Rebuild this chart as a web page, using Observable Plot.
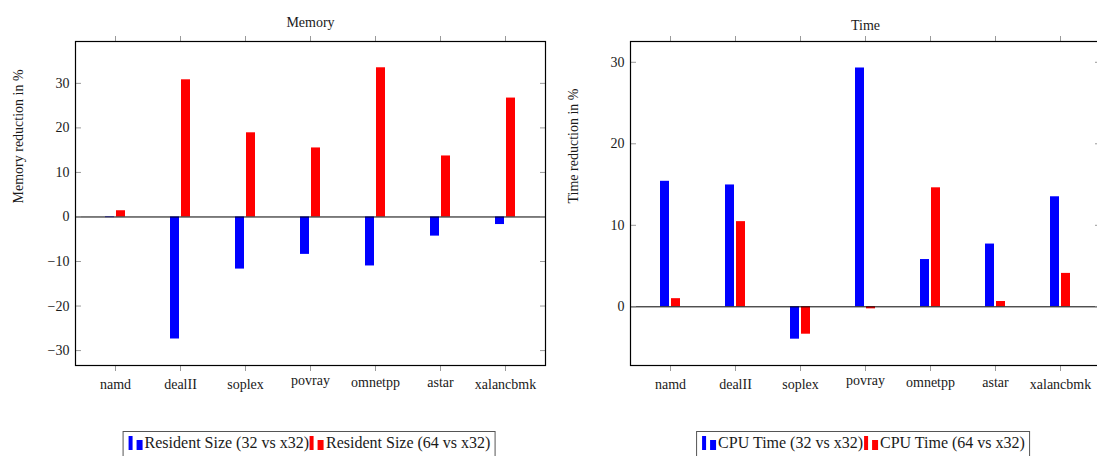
<!DOCTYPE html>
<html>
<head>
<meta charset="utf-8">
<script src="https://cdn.jsdelivr.net/npm/d3@7"></script>
<script src="https://cdn.jsdelivr.net/npm/@observablehq/plot@0.6"></script>
<style>
  html, body { margin: 0; padding: 0; background: white; overflow: hidden; width: 1097px; height: 456px; }
  #root { position: relative; width: 1097px; height: 456px; }
  .chart { position: absolute; top: 0; width: 560px; height: 400px; }
  .legend {
    position: absolute; top: 431px; transform: translateX(-50%);
    border: 1px solid #555; padding: 1px 4px 8px 4px;
    font-family: "Liberation Serif", "Times New Roman", serif; font-size: 16px; line-height: 19px;
    color: #1a1a1a; white-space: nowrap; background: white;
  }
  .legend svg { vertical-align: -2px; margin-right: 1px; }
</style>
</head>
<body>
<div id="root">
  <div class="chart" id="c1" style="left:0px"></div>
  <div class="chart" id="c2" style="left:555px"></div>
  <div class="legend" id="l1" style="left:309px"></div>
  <div class="legend" id="l2" style="left:863px"></div>
</div>
<script>
const benchmarks = ["namd", "dealII", "soplex", "povray", "omnetpp", "astar", "xalancbmk"];
const memory32 = [-0.15, -27.4, -11.7, -8.4, -11.0, -4.3, -1.7];
const memory64 = [1.4, 30.8, 18.9, 15.5, 33.5, 13.7, 26.7];
const time32 = [15.4, 14.95, -3.97, 29.3, 5.8, 7.7, 13.5];
const time64 = [1.0, 10.45, -3.36, -0.25, 14.6, 0.65, 4.1];
const memoryTicks = [-30, -20, -10, 0, 10, 20, 30];
const timeTicks = [0, 10, 20, 30];
const memoryLegend = ["Resident Size (32 vs x32)", "Resident Size (64 vs x32)"];
const timeLegend = ["CPU Time (32 vs x32)", "CPU Time (64 vs x32)"];
const colors = ["#0000ff", "#ff0000"];

// LaTeX-style "north" anchoring of tick labels: words without tall letters sit higher
const tall = /[bdfhklA-Z]/;
const midTall = /[ti]/;
function raise(w) { return tall.test(w) ? 0 : (midTall.test(w) ? 2 : 4); }

function chart({title, ylabel, domain, ticks, s1, s2, titleDy}) {
  const rows = benchmarks.map((b, i) => ({bench: b, v1: s1[i], v2: s2[i]}));
  const tickGrey = "#9a9a9a";
  const labelMarks = [0, 2, 4].map(r =>
    Plot.text(benchmarks.filter(b => raise(b) === r), {
      x: d => d, text: d => d, frameAnchor: "bottom", lineAnchor: "bottom",
      dy: 23 - r, fontSize: 14, fill: "#1a1a1a"
    })
  );
  return Plot.plot({
    width: 560, height: 400,
    marginLeft: 75, marginRight: 15, marginTop: 41, marginBottom: 35,
    style: {fontFamily: "'Liberation Serif', 'Times New Roman', serif", fontSize: "14px", color: "#1a1a1a", background: "white", overflow: "visible"},
    x: {type: "band", domain: benchmarks, paddingInner: 0.69325, paddingOuter: 0.4509, axis: null},
    y: {domain, axis: null},
    marks: [
      Plot.barY(rows, {x: "bench", y: "v1", fill: colors[0], insetRight: 11}),
      Plot.barY(rows, {x: "bench", y: "v2", fill: colors[1], insetLeft: 11}),
      Plot.ruleY([0], {stroke: "black", strokeWidth: 1}),
      Plot.axisX({anchor: "bottom", tickSize: 6, stroke: tickGrey, fill: null, label: null}),
      ...labelMarks,
      Plot.axisX({anchor: "top", tickSize: 6, stroke: tickGrey, fill: null, label: null}),
      Plot.axisY({anchor: "left", ticks, tickSize: 0, tickPadding: 6, fill: "#1a1a1a", label: null}),
      Plot.axisY({anchor: "left", ticks, tickSize: -6, stroke: tickGrey, fill: null, label: null}),
      Plot.axisY({anchor: "right", ticks, tickSize: -6, stroke: tickGrey, fill: null, label: null}),
      Plot.frame({stroke: "black", strokeWidth: 1.2}),
      Plot.text([title], {text: d => d, frameAnchor: "top", dy: titleDy, fontSize: 14, fill: "#1a1a1a"}),
      Plot.text([ylabel], {text: d => d, frameAnchor: "left", dx: -57, rotate: -90, fontSize: 14, fill: "#1a1a1a"})
    ]
  });
}

document.getElementById("c1").appendChild(chart({
  title: "Memory", ylabel: "Memory reduction in %", domain: [-33.35, 39.4],
  ticks: memoryTicks, s1: memory32, s2: memory64, titleDy: -24
}));
document.getElementById("c2").appendChild(chart({
  title: "Time", ylabel: "Time reduction in %", domain: [-7.2, 32.55],
  ticks: timeTicks, s1: time32, s2: time64, titleDy: -21
}));

function symbol(color) {
  return `<svg width="16" height="15" viewBox="0 0 16 15"><rect x="1" y="1" width="4" height="14" fill="${color}"/><rect x="9" y="5" width="6" height="10" fill="${color}"/></svg>`;
}
function legend(id, labels) {
  document.getElementById(id).innerHTML = labels.map((t, i) => `${symbol(colors[i])}<span>${t}</span>`).join("");
}
legend("l1", memoryLegend);
legend("l2", timeLegend);
</script>
</body>
</html>
